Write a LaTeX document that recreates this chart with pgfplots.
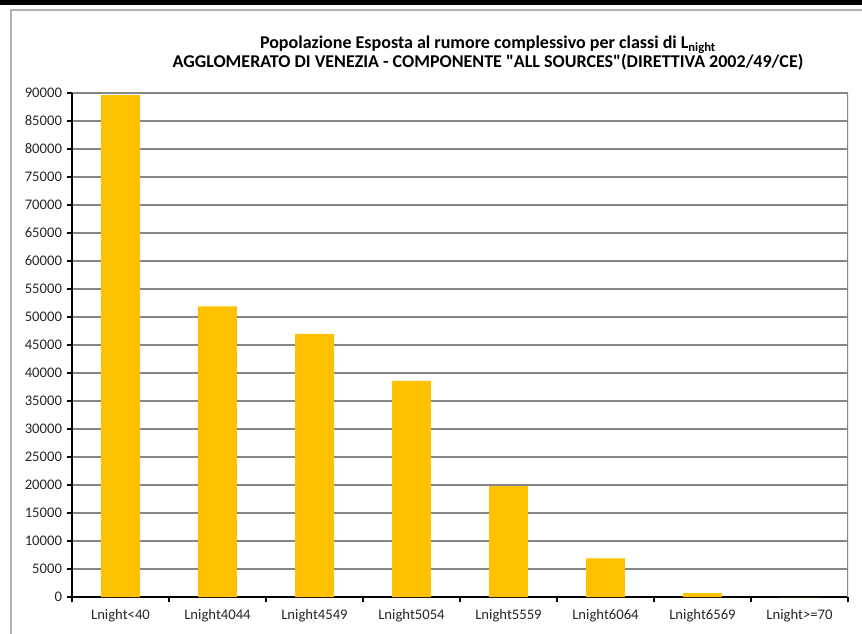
\documentclass[border=0pt]{standalone}
\usepackage{fontspec}
\setmainfont{Carlito}[Ligatures=TeXOff]
\usepackage{pgfplots}
\pgfplotsset{compat=1.18}
\definecolor{barc}{HTML}{FFC000}
\definecolor{gridc}{HTML}{868686}
\begin{document}
\begin{tikzpicture}
\path[use as bounding box] (0,0) rectangle (646.5pt,474.75pt);
\fill[black] (0,471pt) rectangle (646.5pt,474.75pt);
\draw[gray!60, line width=1.5pt] (8.25pt,-2pt) -- (8.25pt,467.25pt) -- (660pt,467.25pt);
\node[font=\bfseries\fontsize{13.5}{15.5}\selectfont, align=center] at (366pt,435pt)
 {Popolazione Esposta al rumore complessivo per classi di L\textsubscript{night}\\[-1pt]
  AGGLOMERATO DI VENEZIA - COMPONENTE "ALL SOURCES"(DIRETTIVA 2002/49/CE)};
\begin{axis}[
  at={(54pt,27pt)}, anchor=south west,
  scale only axis, width=582pt, height=378pt,
  xmin=-0.5, xmax=7.5, ymin=0, ymax=90000,
  axis x line*=bottom, axis y line*=left,
  axis line style={-, black, line width=0.8pt},
  xtick={0,...,7},
  xticklabels={Lnight<40,Lnight4044,Lnight4549,Lnight5054,Lnight5559,Lnight6064,Lnight6569,Lnight>=70},
  major x tick style={draw=none},
  minor xtick={-0.5,0.5,...,7.5},
  minor x tick style={black, line width=0.8pt},
  ytick={0,5000,...,90000},
  ymajorgrids, grid style={gridc, line width=0.8pt},
  y tick style={black, line width=0.8pt},
  tick align=outside, major tick length=4pt, minor tick length=4pt,
  scaled y ticks=false,
  yticklabel style={/pgf/number format/fixed, /pgf/number format/1000 sep={}, /pgf/number format/assume math mode=true, font=\fontsize{11}{12}\selectfont, text=black!85},
  xticklabel style={font=\fontsize{11}{12}\selectfont, text=black!85, yshift=-2pt},
  ybar, bar width=0.4, bar shift=0pt,
]
\addplot[fill=barc, draw=none] coordinates {(0,89600) (1,51900) (2,47000) (3,38600) (4,19800) (5,6900) (6,700) (7,0)};
\draw[gridc, line width=0.8pt] (rel axis cs:1,0) -- (rel axis cs:1,1);
\end{axis}
\end{tikzpicture}
\end{document}
